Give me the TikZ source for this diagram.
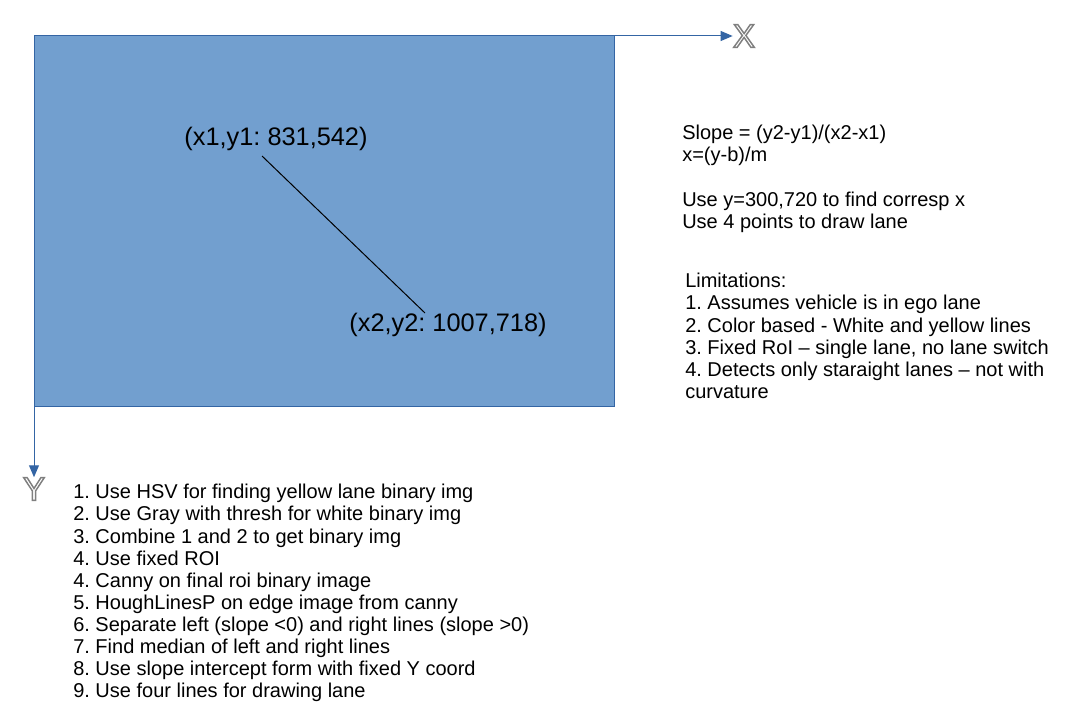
\documentclass[tikz,border=0pt]{standalone}
\usepackage{fontspec}
\setmainfont{Liberation Sans}
\usepackage{tikz}
\usetikzlibrary{arrows.meta, calc}
\usepackage{xcolor}
\definecolor{imgfill}{HTML}{729FCF}
\definecolor{imgline}{HTML}{3465A4}
\definecolor{axisgray}{HTML}{7F7F7F}
\newcommand{\hollow}[1]{\special{pdf:literal direct 1 Tr 1.1 w}#1\special{pdf:literal direct 0 Tr}}
\frenchspacing

\begin{document}
\begin{tikzpicture}[x=0.75pt, y=-0.75pt]
\tikzstyle{image} = [draw=imgline, fill=imgfill, line width=0.75pt]
\tikzstyle{axis} = [draw=imgline, line width=0.75pt, -{Triangle[length=9pt, width=7.5pt]}]
\tikzstyle{axlabel} = [text=axisgray, font=\fontsize{25}{25}\selectfont, inner sep=0pt]
\tikzstyle{coord} = [font=\fontsize{19}{20}\selectfont, inner sep=0pt]
\tikzstyle{notes} = [anchor=north west, align=left, inner sep=0pt, font=\fontsize{15}{16.6}\selectfont]

\useasboundingbox (0,0) rectangle (1076,717);

% Image frame
\draw [image] (34,36) rectangle (614,406);
\coordinate (origin) at (34,36);
\coordinate (ybottom) at (34,406);

% Axes
\node (xlab) [axlabel] at (744,36) {\hollow{X}};
\node (ylab) [axlabel] at (34,489) {\hollow{Y}};
\draw [axis] (614,36) -- (xlab.west);
\draw [axis] (ybottom) -- (ylab.north);

% Lane line points
\node (p1) [coord] at (276,139) {(x1,y1: 831,542)};
\node (p2) [coord] at (448,325) {(x2,y2: 1007,718)};
\coordinate (a) at (262,156);
\coordinate (b) at (425,313);
\draw [line width=0.75pt] (a) -- (b);

% Notes
\node (slope) [notes] at (682,125) {Slope = (y2-y1)/(x2-x1)\\x=(y-b)/m\\[16.6pt]Use y=300,720 to find corresp x\\Use 4 points to draw lane};
\node (limits) [notes] at (685,273) {Limitations:\\1. Assumes vehicle is in ego lane\\2. Color based - White and yellow lines\\3. Fixed RoI -- single lane, no lane switch\\4. Detects only staraight lanes -- not with\\curvature};
\node (steps) [notes] at (73,484) {1. Use HSV for finding yellow lane binary img\\2. Use Gray with thresh for white binary img\\3. Combine 1 and 2 to get binary img\\4. Use fixed ROI\\4. Canny on final roi binary image\\5. HoughLinesP on edge image from canny\\6. Separate left (slope <0) and right lines (slope >0)\\7. Find median of left and right lines\\8. Use slope intercept form with fixed Y coord\\9. Use four lines for drawing lane};

\end{tikzpicture}
\end{document}
